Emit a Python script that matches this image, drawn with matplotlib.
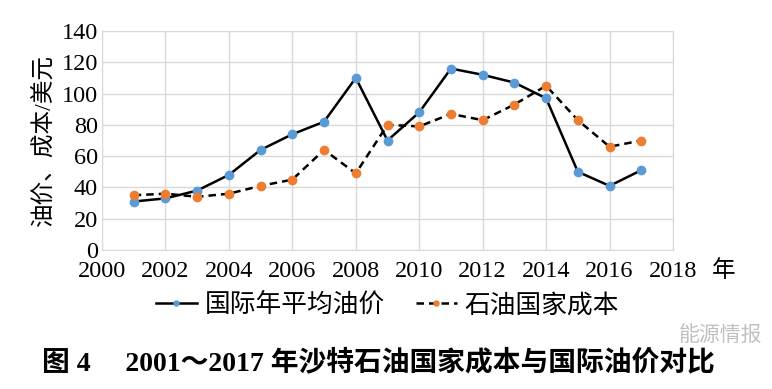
import matplotlib
matplotlib.use('Agg')
import matplotlib.pyplot as plt

plt.rcParams['font.family'] = ['Liberation Serif', 'Noto Sans CJK SC']

years = [2001, 2002, 2003, 2004, 2005, 2006, 2007, 2008, 2009,
         2010, 2011, 2012, 2013, 2014, 2015, 2016, 2017]
oil_price = [31, 33, 38, 48, 64, 74, 82, 110, 70,
             88, 116, 112, 107, 97, 50, 41, 51]
break_even = [35, 36, 34, 36, 41, 45, 64, 49, 80,
              79, 87, 83, 93, 105, 83, 66, 70]

price_label = "国际年平均油价"
cost_label = "石油国家成本"
y_title = "油价、成本/美元"
caption = "图 4　 2001～2017 年沙特石油国家成本与国际油价对比"

fig = plt.figure(figsize=(7.72, 3.89), dpi=100)
ax = fig.add_axes([102/772, 139/389, 571/772, 219/389])

ax.plot(years, oil_price, color='black', lw=1.8, marker='o', ms=6,
        mfc='#5b9bd5', mec='#5b9bd5', label=price_label, zorder=3)
ax.plot(years, break_even, color='black', lw=1.8, ls=(0, (3, 2)), marker='o', ms=6,
        mfc='#ed7d31', mec='#ed7d31', label=cost_label, zorder=3)

ax.set_xlim(2000, 2018)
ax.set_ylim(0, 140)
ax.set_xticks(range(2000, 2019, 2))
ax.set_yticks(range(0, 141, 20))
ax.tick_params(labelsize=17.5, length=0)
ax.tick_params(axis='x', pad=8)
ax.tick_params(axis='y', pad=3)
ax.grid(True, color='#d9d9d9', lw=1)
for s in ax.spines.values():
    s.set_color('#d9d9d9')
ax.set_axisbelow(True)

ax.set_ylabel(y_title, fontsize=17, labelpad=4)
fig.text(712/772, 1 - 271/389, "年", fontsize=17, ha='left', va='center')

leg = ax.legend(loc='upper center', bbox_to_anchor=(0.5, -0.09), ncol=2,
                frameon=False, fontsize=18.5, handlelength=1.6, handletextpad=0.3,
                columnspacing=1.2, markerscale=0.6)

fig.text(0.49, 1 - 363/389, caption, fontsize=20, fontweight='bold',
         ha='center', va='center')
fig.text(762/772, 1 - 336/389, "能源情报", fontsize=15, color='#c0c0c0',
         ha='right', va='center')

fig.savefig('out.png', dpi=100)
